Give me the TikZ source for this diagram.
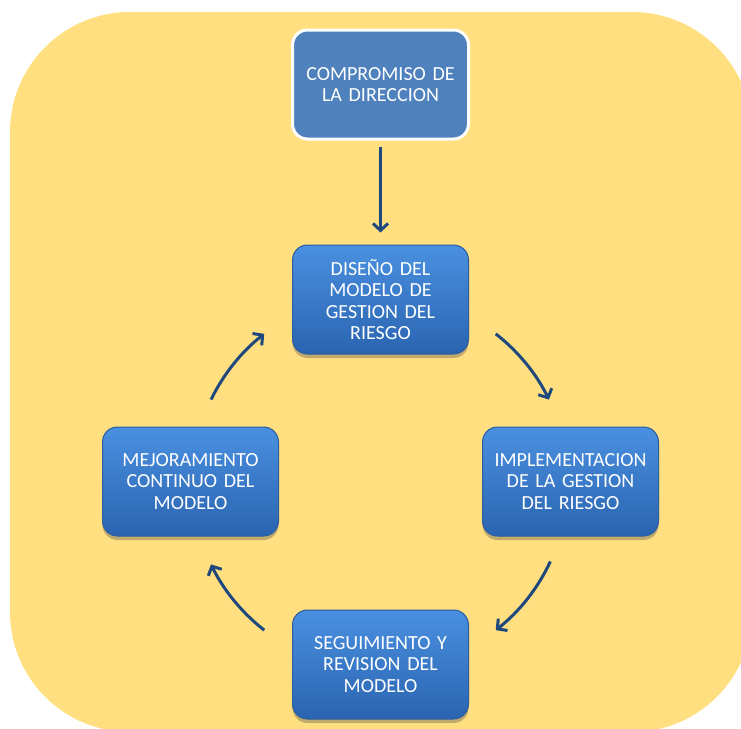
\documentclass[tikz,border=0pt]{standalone}
\usepackage{fontspec}
\setmainfont{Carlito}
\usetikzlibrary{arrows.meta,shadows,calc}
\definecolor{bgyellow}{RGB}{255,223,128}
\definecolor{boxtop}{RGB}{74,144,224}
\definecolor{boxbot}{RGB}{42,100,176}
\definecolor{boxedge}{RGB}{44,92,160}
\definecolor{flatblue}{RGB}{79,129,189}
\definecolor{arrowblue}{RGB}{31,73,125}
\tikzset{
  basebox/.style={rounded corners=15pt, minimum width=176pt, minimum height=109pt,
    text width=172pt, align=center, text=white, inner sep=0pt,
    font=\fontsize{20}{21.5}\selectfont},
  flatbox/.style={basebox, fill=flatblue, draw=white, line width=3pt},
  stagebox/.style={basebox, top color=boxtop, bottom color=boxbot, draw=boxedge, line width=1pt,
    drop shadow={shadow xshift=0pt, shadow yshift=-4pt, opacity=0.35, fill=black!70}},
  arr/.style={draw=arrowblue, line width=3pt, -{Straight Barb[length=7pt,width=15pt,line width=3pt]}}
}
\begin{document}
\begin{tikzpicture}[x=1pt,y=1pt]
\useasboundingbox (0,0) rectangle (741,-728);
\fill[bgyellow, rounded corners=120pt] (10,-12) rectangle (752,-732);

\node[flatbox]  (comp) at (380.5,-84.5)  {COMPROMISO DE\\LA DIRECCION};
\node[stagebox] (dis)  at (380.5,-299.5) {DISEÑO DEL\\MODELO DE\\GESTION DEL\\RIESGO};
\node[stagebox] (imp)  at (570.5,-481.5) {IMPLEMENTACION\\DE LA GESTION\\DEL RIESGO};
\node[stagebox] (mej)  at (190.5,-481.5) {MEJORAMIENTO\\CONTINUO DEL\\MODELO};
\node[stagebox] (seg)  at (380.5,-664.5) {SEGUIMIENTO Y\\REVISION DEL\\MODELO};

\draw[arr, shorten <=6pt, shorten >=12pt] (comp) -- (dis);

\coordinate (c) at (380,-482);
\coordinate (a1) at ($(c)+(52:188)$);
\coordinate (a2) at ($(c)+(-25:188)$);
\coordinate (a3) at ($(c)+(232:188)$);
\coordinate (a4) at ($(c)+(154:188)$);
\draw[arr] (a1) arc[start angle=52, end angle=26, radius=188];
\draw[arr] (a2) arc[start angle=-25, end angle=-52, radius=188];
\draw[arr] (a3) arc[start angle=232, end angle=206, radius=188];
\draw[arr] (a4) arc[start angle=154, end angle=128, radius=188];
\end{tikzpicture}
\end{document}
